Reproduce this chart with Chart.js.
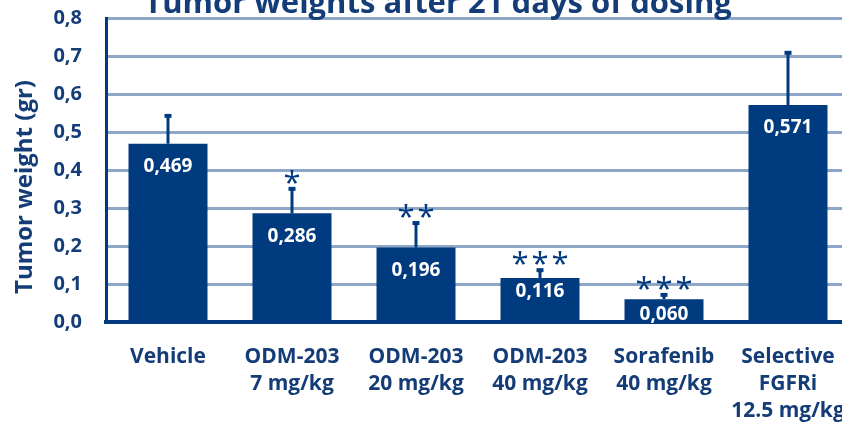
<!DOCTYPE html>
<html>
<head>
<meta charset="utf-8">
<script src="https://cdn.jsdelivr.net/npm/chart.js@4.4.0/dist/chart.umd.min.js"></script>
<style>
  html, body { margin: 0; padding: 0; overflow: hidden; background: #fff; }
  #wrap { position: relative; width: 870px; height: 445px; }
</style>
</head>
<body>
<div id="wrap"><canvas id="chart"></canvas></div>
<script>
'use strict';

/*--- data --*/
var categories = ['Vehicle', ['ODM-203', '7 mg/kg'], ['ODM-203', '20 mg/kg'], ['ODM-203', '40 mg/kg'],
  ['Sorafenib', '40 mg/kg'], ['Selective', 'FGFRi', '12.5 mg/kg']];
var means = [0.469, 0.286, 0.196, 0.116, 0.060, 0.571];
var errors = [0.076, 0.067, 0.067, 0.023, 0.014, 0.140];
var stars = ['', '*', '**', '***', '***', ''];
var yMin = 0, yMax = 0.8, yStep = 0.1;

var navy = '#003A7F';
var textNavy = '#143D78';
var gridBlue = '#8FA7C6';

Chart.defaults.font.family = '"Open Sans", sans-serif';
Chart.defaults.color = textNavy;

/*--- titles, error bars, labels --*/
var extras = {
  id: 'extras',
  afterDatasetsDraw: function (chart) {
    var ctx = chart.ctx;
    var y = chart.scales.y;
    var meta = chart.getDatasetMeta(0);
    var base = y.getPixelForValue(0);
    ctx.save();
    meta.data.forEach(function (bar, i) {
      var top = y.getPixelForValue(means[i] + errors[i]);
      // error bar
      ctx.strokeStyle = navy;
      ctx.lineWidth = 3;
      ctx.beginPath();
      ctx.moveTo(bar.x, bar.y);
      ctx.lineTo(bar.x, top);
      ctx.stroke();
      ctx.fillStyle = navy;
      ctx.fillRect(bar.x - 3.5, top - 1, 7, 4);
      // significance stars
      var n = stars[i].length;
      ctx.font = '31px "Open Sans"';
      ctx.textAlign = 'center';
      ctx.textBaseline = 'alphabetic';
      for (var k = 0; k < n; k++) {
        ctx.fillText('*', bar.x + (k - (n - 1) / 2) * 20, top + 5);
      }
      // value label
      var ly = Math.min(bar.y + 23, base - 30);
      if (base - bar.y < 30) ly = base - 7;
      ctx.fillStyle = '#ffffff';
      ctx.font = 'bold 19px "Open Sans"';
      ctx.textBaseline = 'middle';
      ctx.fillText(means[i].toFixed(3).replace('.', ','), bar.x, ly);
    });
    ctx.restore();
  },
  afterDraw: function (chart) {
    var ctx = chart.ctx;
    ctx.save();
    ctx.fillStyle = textNavy;
    ctx.font = 'bold 31px "Open Sans"';
    ctx.textAlign = 'center';
    ctx.textBaseline = 'alphabetic';
    ctx.fillText('Tumor weights after 21 days of dosing', 438, 13);
    ctx.translate(25, 187);
    ctx.rotate(-Math.PI / 2);
    ctx.font = 'bold 24px "Open Sans"';
    ctx.textBaseline = 'middle';
    ctx.fillText('Tumor weight (gr)', 0, 0);
    ctx.restore();
  }
};

/*--- chart --*/
new Chart(document.getElementById('chart'), {
  type: 'bar',
  data: {
    labels: categories,
    datasets: [{
      data: means,
      backgroundColor: navy,
      borderWidth: 0,
      barPercentage: 0.637,
      categoryPercentage: 1
    }]
  },
  options: {
    responsive: true,
    maintainAspectRatio: false,
    animation: false,
    layout: { padding: { top: 18, right: 20, bottom: 0, left: 0 } },
    plugins: { legend: { display: false }, tooltip: { enabled: false } },
    scales: {
      x: {
        grid: { display: false, drawTicks: false },
        border: { display: true, color: navy, width: 4 },
        ticks: {
          padding: 22,
          maxRotation: 0,
          autoSkip: false,
          color: textNavy,
          font: { size: 21, weight: 'bold', lineHeight: 1.28 }
        },
        afterFit: function (s) { s.height = 123; }
      },
      y: {
        min: yMin,
        max: yMax,
        grid: {
          drawTicks: false,
          lineWidth: 3,
          color: function (c) { return c.tick && c.tick.value === 0 ? 'rgba(0,0,0,0)' : gridBlue; }
        },
        border: { display: true, color: navy, width: 3 },
        ticks: {
          stepSize: yStep,
          padding: 24,
          color: textNavy,
          font: { size: 20, weight: 'bold' },
          callback: function (v) { return v.toFixed(1).replace('.', ','); }
        },
        afterFit: function (s) {
          s.width = 106;
          s.paddingTop = 0;
          s.paddingBottom = 0;
        }
      }
    }
  },
  plugins: [extras]
});
</script>
</body>
</html>
